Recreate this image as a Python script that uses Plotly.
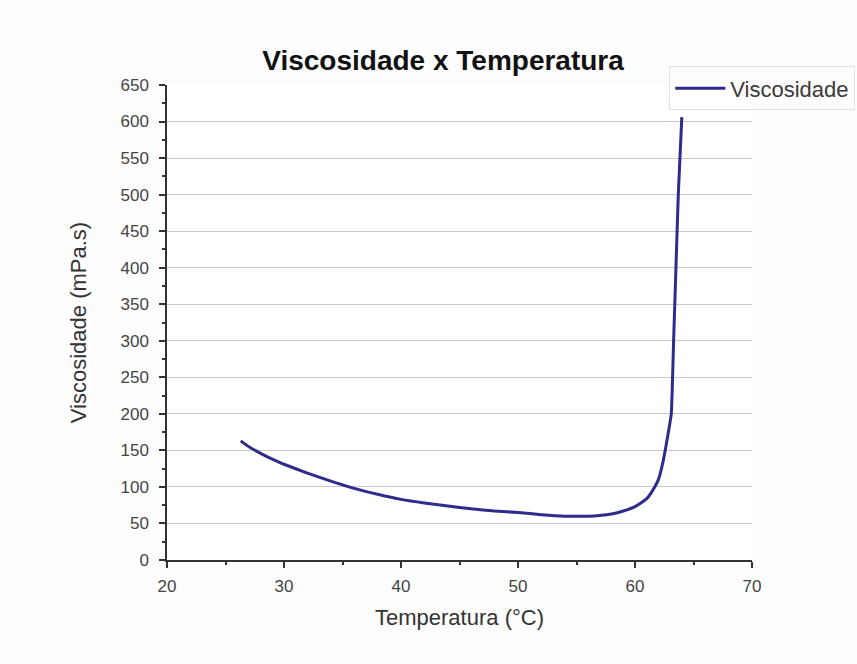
import plotly.graph_objects as go

# Viscosity vs temperature curve
temperatura = [26.3, 27, 28, 29, 30, 32, 34, 36, 38, 40, 42, 44, 46, 48, 50,
               52, 54, 56, 57, 58, 59, 60, 60.5, 61, 61.5, 62, 62.4, 62.8,
               63.1, 63.3, 63.5, 63.7, 64.0]
viscosidade = [163, 155, 146, 138, 131, 119, 108, 98, 90, 83, 78, 74, 70, 67, 65,
               62, 60, 60, 61, 63, 67, 73, 78, 84, 95, 110, 135, 170,
               200, 300, 400, 500, 606]

x_ticks = [20, 30, 40, 50, 60, 70]
y_ticks = list(range(0, 651, 50))

font_family = "Liberation Sans, Arial, sans-serif"

fig = go.Figure()
fig.add_trace(go.Scatter(
    x=temperatura, y=viscosidade, mode="lines", name="Viscosidade",
    line=dict(color="#2f2b8c", width=3, shape="spline", smoothing=0.4),
))

fig.update_layout(
    width=857, height=664,
    margin=dict(l=167, r=105, t=85, b=104, autoexpand=False),
    paper_bgcolor="#fdfdfd",
    plot_bgcolor="#ffffff",
    font=dict(family=font_family, color="#333333"),
    title=dict(text="<b>Viscosidade x Temperatura</b>", x=0.517, xanchor="center",
               y=0.91, yanchor="middle", font=dict(size=28, color="#111111")),
    showlegend=True,
    legend=dict(xref="container", yref="container", x=0.998, y=0.9, xanchor="right", yanchor="top",
                bgcolor="rgba(255,255,255,0)", bordercolor="#e0e0e0", borderwidth=1,
                font=dict(size=22, color="#3a3a3a"), itemwidth=50,
                tracegroupgap=0),
    xaxis=dict(
        range=[20, 70], tickvals=x_ticks, showgrid=False, zeroline=False,
        showline=True, linecolor="#333333", linewidth=1.5,
        ticks="outside", ticklen=6, tickwidth=1.5, tickcolor="#333333",
        minor=dict(dtick=5, ticks="outside", ticklen=3, tickcolor="#333333", showgrid=False),
        tickfont=dict(size=17, color="#444444"), ticklabelstandoff=4,
        title=dict(text="Temperatura (°C)", font=dict(size=22, color="#333333"), standoff=14),
    ),
    yaxis=dict(
        range=[0, 650], tickvals=y_ticks, showgrid=True, gridcolor="#c8c8c8", gridwidth=1,
        zeroline=False, showline=True, linecolor="#333333", linewidth=1.5,
        ticks="outside", ticklen=6, tickwidth=1.5, tickcolor="#333333",
        minor=dict(dtick=25, ticks="outside", ticklen=3, tickcolor="#333333", showgrid=False),
        tickfont=dict(size=17, color="#444444"), ticklabelstandoff=7,
        title=dict(text="Viscosidade (mPa.s)", font=dict(size=22, color="#333333"), standoff=28),
    ),
)

fig.write_html("out.html")
